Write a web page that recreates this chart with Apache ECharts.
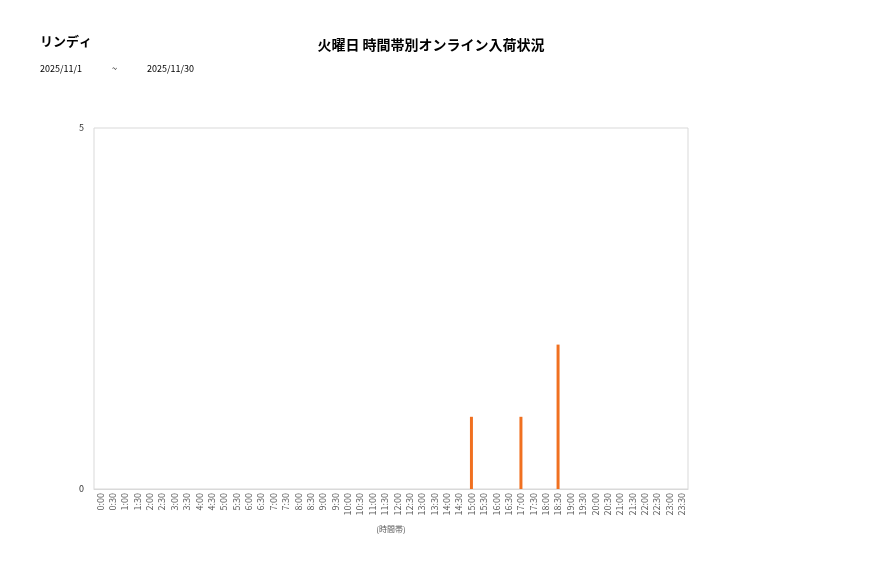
<!DOCTYPE html>
<html>
<head>
<meta charset="utf-8">
<script src="https://cdn.jsdelivr.net/npm/echarts@6/dist/echarts.min.js"></script>
<style>
html,body{margin:0;padding:0;background:#fff;}
#c{width:877px;height:578px;}
</style>
</head>
<body>
<div id="c"></div>
<script>
const categories = [];
for (let h = 0; h < 24; h++) { categories.push(h + ':00'); categories.push(h + ':30'); }
const seriesValues = [
  0,0,0,0,0,0,0,0,0,0,0,0,0,0,0,0,0,0,0,0,0,0,0,0,
  0,0,0,0,0,0,1,0,0,0,1,0,0,2,0,0,0,0,0,0,0,0,0,0
];
const yTicks = [0, 5];
const titleText = '火曜日 時間帯別オンライン入荷状況';
const storeName = 'リンディ';
const dateFrom = '2025/11/1';
const dateTo = '2025/11/30';

const chart = echarts.init(document.getElementById('c'));
const font = '"Noto Sans CJK JP", "Noto Sans", sans-serif';
chart.setOption({
  animation: false,
  backgroundColor: '#fff',
  textStyle: { fontFamily: font },
  graphic: [
    { type: 'text', left: 40, top: 35, style: { text: storeName, font: 'bold 13px ' + font, fill: '#000' } },
    { type: 'text', left: 40, top: 64, style: { text: dateFrom, font: '9px ' + font, fill: '#000' } },
    { type: 'text', left: 112, top: 64, style: { text: '~', font: '9px ' + font, fill: '#000' } },
    { type: 'text', left: 147, top: 64, style: { text: dateTo, font: '9px ' + font, fill: '#000' } }
  ],
  title: {
    text: titleText, left: 426, top: 33, textAlign: 'center',
    textStyle: { fontSize: 14, fontWeight: 'bold', color: '#000', fontFamily: font }
  },
  grid: { left: 94, right: 189, top: 128, bottom: 89, show: true, borderColor: '#d9d9d9', borderWidth: 1 },
  xAxis: {
    type: 'category', data: categories,
    name: '(時間帯)', nameLocation: 'middle', nameGap: 36,
    nameTextStyle: { fontSize: 8, color: '#595959' },
    axisLine: { show: true, lineStyle: { color: '#d9d9d9' } },
    axisTick: { show: false },
    axisLabel: { interval: 0, rotate: 90, fontSize: 9, color: '#595959', margin: 4, padding: [0, 0, 7, 0] }
  },
  yAxis: {
    type: 'value', min: 0, max: 5, interval: 5,
    axisLine: { show: false }, axisTick: { show: false },
    splitLine: { show: false },
    axisLabel: { fontSize: 9, color: '#333', margin: 10,
      formatter: v => yTicks.includes(v) ? String(v) : '' }
  },
  series: [{
    type: 'bar', data: seriesValues, barWidth: 3,
    itemStyle: { color: '#f07020' }
  }]
});
</script>
</body>
</html>
